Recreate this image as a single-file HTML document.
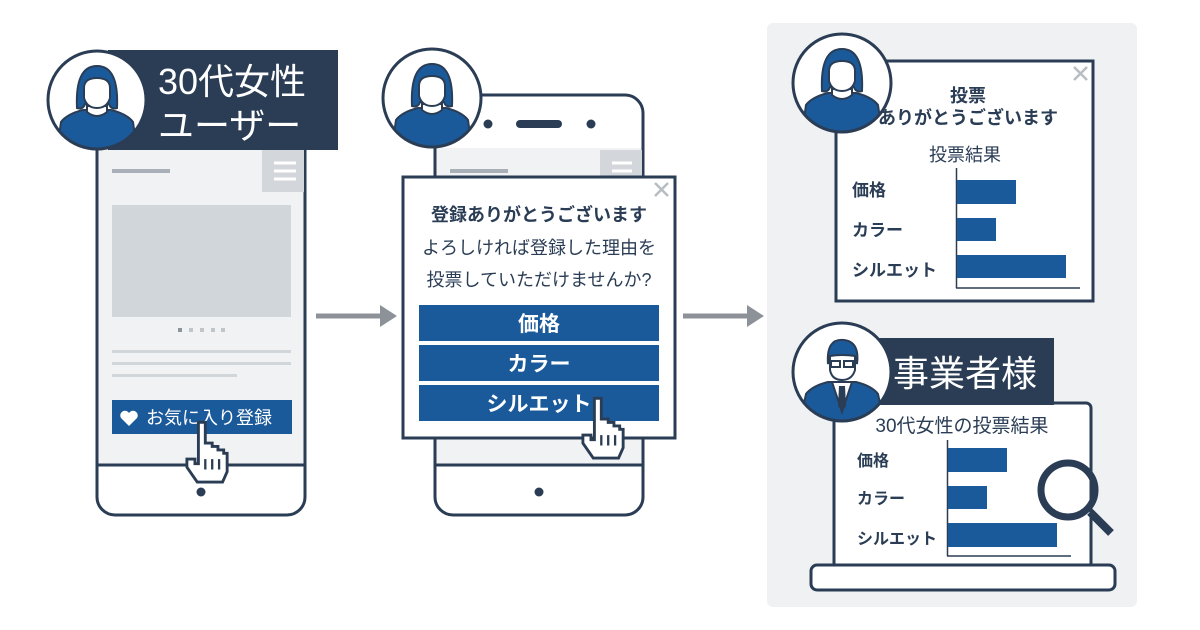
<!DOCTYPE html>
<html><head><meta charset="utf-8"><style>
html,body{margin:0;padding:0;background:#fff}
svg{display:block}
text{font-family:"Liberation Sans","Noto Sans CJK JP",sans-serif}
</style></head><body>
<svg width="1200" height="630" viewBox="0 0 1200 630" xmlns="http://www.w3.org/2000/svg">
<defs>
<clipPath id="cw"><circle cx="0" cy="0" r="48"/></clipPath>
<g id="woman">
  <circle cx="0" cy="0" r="49" fill="#fff"/>
  <g clip-path="url(#cw)">
    <path d="M-40 50 L-36 22 Q-30 14 -14 10 L14 10 Q30 14 36 22 L40 50 Z" fill="#1b5a9a" stroke="#2a3d55" stroke-width="2"/>
    <path d="M-10 6 L-10 12 Q0 20 10 12 L10 6 Z" fill="#fff" stroke="#2a3d55" stroke-width="2"/>
    <path d="M-20 8 Q-22 -34 0 -34 Q22 -34 20 8 Q14 10 12 4 L-12 4 Q-14 10 -20 8Z" fill="#1b5a9a" stroke="#2a3d55" stroke-width="2"/>
    <path d="M-13 -12 Q-13 -22 0 -22 Q13 -22 13 -12 L13 -2 Q10 8 0 8 Q-10 8 -13 -2Z" fill="#fff" stroke="#2a3d55" stroke-width="2"/>
  </g>
  <circle cx="0" cy="0" r="49" fill="none" stroke="#2a3d55" stroke-width="3"/>
</g>
<g id="man">
  <circle cx="0" cy="0" r="49" fill="#fff"/>
  <g clip-path="url(#cw)">
    <path d="M-42 50 L-36 22 Q-30 14 -14 10 L14 10 Q30 14 36 22 L42 50 Z" fill="#1b5a9a" stroke="#2a3d55" stroke-width="2"/>
    <path d="M-10 10 L0 40 L10 10Z" fill="#fff" stroke="#2a3d55" stroke-width="2"/>
    <path d="M-3 14 L3 14 L4 34 L0 40 L-4 34Z" fill="#2a3d55"/>
    <path d="M-14 -8 Q-16 -34 2 -32 Q18 -30 15 -8 L13 -16 Q0 -18 -12 -16Z" fill="#1b5a9a" stroke="#2a3d55" stroke-width="2"/>
    <path d="M-12 -16 Q0 -18 13 -16 L13 -2 Q10 8 0 8 Q-10 8 -12 -2Z" fill="#fff" stroke="#2a3d55" stroke-width="2"/>
    <rect x="-11" y="-11" width="9" height="6" fill="none" stroke="#2a3d55" stroke-width="2"/>
    <rect x="2" y="-11" width="9" height="6" fill="none" stroke="#2a3d55" stroke-width="2"/>
  </g>
  <circle cx="0" cy="0" r="49" fill="none" stroke="#2a3d55" stroke-width="3"/>
</g>
<g id="hand">
  <path d="M16 2 h6 v18 h6 v3 h5 v3 h5 v3 h3 v16 l-4 9 h-22 l-9-13 v-7 h7 v4 h3 z" fill="#fff" stroke="#2a3d55" stroke-width="2.5" stroke-linejoin="miter"/>
  <path d="M22 34 v9 M28 34 v9 M34 34 v9" stroke="#2a3d55" stroke-width="2"/>
</g>
</defs>

<rect x="767" y="23" width="370" height="584" rx="6" fill="#f0f1f3"/>

<!-- Phone 1 -->
<rect x="97" y="70" width="208" height="445" rx="18" fill="#fff" stroke="#2a3d55" stroke-width="3"/>
<rect x="98.5" y="140" width="205" height="324" fill="#f1f2f4"/>
<line x1="97" y1="465" x2="305" y2="465" stroke="#2a3d55" stroke-width="3"/>
<circle cx="201" cy="492" r="4.5" fill="#2a3d55"/>
<rect x="262" y="150" width="42" height="42" fill="#d3d7db"/>
<path d="M274 163h22M274 171h22M274 179h22" stroke="#fff" stroke-width="3"/>
<rect x="112" y="169" width="58" height="4" fill="#a9b0b8"/>
<rect x="112" y="205" width="179" height="112" fill="#d1d6da"/>
<g fill="#c0c5ca"><rect x="178" y="328" width="4" height="4" fill="#8d949b"/><rect x="189" y="328" width="4" height="4"/><rect x="200" y="328" width="4" height="4"/><rect x="211" y="328" width="4" height="4"/><rect x="221" y="328" width="4" height="4"/></g>
<rect x="112" y="350" width="179" height="3" fill="#d1d6da"/>
<rect x="112" y="362" width="179" height="3" fill="#d1d6da"/>
<rect x="112" y="374" width="125" height="3" fill="#d1d6da"/>
<rect x="112" y="400" width="180" height="34" fill="#1b5a9a"/>
<path d="M129 426 l-8-8 a4.5 4.5 0 0 1 8-5 a4.5 4.5 0 0 1 8 5z" fill="#fff"/>
<text x="146" y="424" font-size="18" fill="#fff">お気に入り登録</text>
<use href="#hand" transform="translate(180 420) scale(1.15)"/>

<rect x="108" y="50" width="230" height="100" fill="#2a3d55"/>
<text x="158" y="94" font-size="36" fill="#fff">30代女性</text>
<text x="158" y="138" font-size="36" fill="#fff">ユーザー</text>
<use href="#woman" x="97" y="100"/>

<line x1="316" y1="316" x2="382" y2="316" stroke="#8d9299" stroke-width="5"/>
<path d="M380 305 L397 316 L380 327Z" fill="#8d9299"/>

<!-- Phone 2 -->
<rect x="435" y="95" width="208" height="420" rx="18" fill="#fff" stroke="#2a3d55" stroke-width="3"/>
<rect x="436.5" y="148" width="205" height="316" fill="#f1f2f4"/>
<line x1="435" y1="465" x2="643" y2="465" stroke="#2a3d55" stroke-width="3"/>
<circle cx="539" cy="492" r="4.5" fill="#2a3d55"/>
<circle cx="488" cy="124" r="4.5" fill="#2a3d55"/>
<circle cx="591" cy="124" r="4.5" fill="#2a3d55"/>
<rect x="516" y="120" width="46" height="8" rx="4" fill="#2a3d55"/>
<rect x="600" y="150" width="42" height="26" fill="#d3d7db"/>
<path d="M612 163h20M612 171h20" stroke="#fff" stroke-width="3"/>
<rect x="450" y="169" width="58" height="4" fill="#a9b0b8"/>
<use href="#woman" x="432" y="98"/>

<rect x="403" y="177" width="272" height="261" fill="#fff" stroke="#2a3d55" stroke-width="3"/>
<path d="M655 183 l13 13 M668 183 l-13 13" stroke="#b8bdc2" stroke-width="2.5"/>
<text x="539" y="221" font-size="18" font-weight="bold" fill="#2a3d55" text-anchor="middle">登録ありがとうございます</text>
<text x="539" y="254" font-size="18" fill="#2a3d55" text-anchor="middle">よろしければ登録した理由を</text>
<text x="539" y="286" font-size="18" fill="#2a3d55" text-anchor="middle">投票していただけませんか?</text>
<rect x="419" y="305" width="240" height="36" fill="#1b5a9a"/>
<rect x="419" y="345" width="240" height="36" fill="#1b5a9a"/>
<rect x="419" y="385" width="240" height="36" fill="#1b5a9a"/>
<g font-size="21" font-weight="bold" fill="#fff" text-anchor="middle">
<text x="539" y="331">価格</text><text x="539" y="371">カラー</text><text x="539" y="411">シルエット</text></g>
<use href="#hand" transform="translate(576 396) scale(1.15)"/>

<line x1="683" y1="316" x2="749" y2="316" stroke="#8d9299" stroke-width="5"/>
<path d="M747 305 L764 316 L747 327Z" fill="#8d9299"/>

<!-- Card top -->
<rect x="836" y="61" width="257" height="240" fill="#fff" stroke="#2a3d55" stroke-width="3"/>
<path d="M1074 67 l13 13 M1087 67 l-13 13" stroke="#b8bdc2" stroke-width="2.5"/>
<text x="968" y="102" font-size="18" font-weight="bold" fill="#2a3d55" text-anchor="middle">投票</text>
<text x="968" y="124" font-size="18" font-weight="bold" fill="#2a3d55" text-anchor="middle">ありがとうございます</text>
<text x="965" y="161" font-size="18" fill="#2a3d55" text-anchor="middle">投票結果</text>
<g font-size="17" font-weight="bold" fill="#2a3d55">
<text x="852" y="196">価格</text><text x="852" y="236">カラー</text><text x="852" y="276">シルエット</text></g>
<line x1="956.5" y1="168" x2="956.5" y2="288" stroke="#2a3d55" stroke-width="1.5"/>
<line x1="956" y1="288" x2="1080" y2="288" stroke="#2a3d55" stroke-width="1.5"/>
<rect x="957" y="180" width="59" height="24" fill="#1b5a9a"/>
<rect x="957" y="218" width="39" height="23" fill="#1b5a9a"/>
<rect x="957" y="255" width="109" height="23" fill="#1b5a9a"/>
<use href="#woman" x="842" y="83"/>

<!-- Laptop -->
<rect x="834" y="403" width="257" height="165" rx="5" fill="#fff" stroke="#2a3d55" stroke-width="3"/>
<rect x="811" y="565" width="304" height="25" rx="6" fill="#fff" stroke="#2a3d55" stroke-width="3"/>
<text x="962" y="432" font-size="19" fill="#2a3d55" text-anchor="middle">30代女性の投票結果</text>
<g font-size="16" font-weight="bold" fill="#2a3d55">
<text x="857" y="466">価格</text><text x="857" y="504">カラー</text><text x="857" y="544">シルエット</text></g>
<line x1="947.5" y1="440" x2="947.5" y2="556" stroke="#2a3d55" stroke-width="1.5"/>
<line x1="947" y1="556" x2="1071" y2="556" stroke="#2a3d55" stroke-width="1.5"/>
<rect x="948" y="448" width="59" height="24" fill="#1b5a9a"/>
<rect x="948" y="486" width="39" height="23" fill="#1b5a9a"/>
<rect x="948" y="523" width="109" height="24" fill="#1b5a9a"/>
<line x1="1090" y1="512" x2="1111" y2="533" stroke="#2a3d55" stroke-width="8"/>
<circle cx="1068" cy="490" r="27" fill="none" stroke="#2a3d55" stroke-width="7"/>
<rect x="870" y="338" width="184" height="67" fill="#2a3d55"/>
<text x="893" y="386" font-size="36" fill="#fff">事業者様</text>
<use href="#man" x="842" y="372"/>
</svg>
</body></html>
